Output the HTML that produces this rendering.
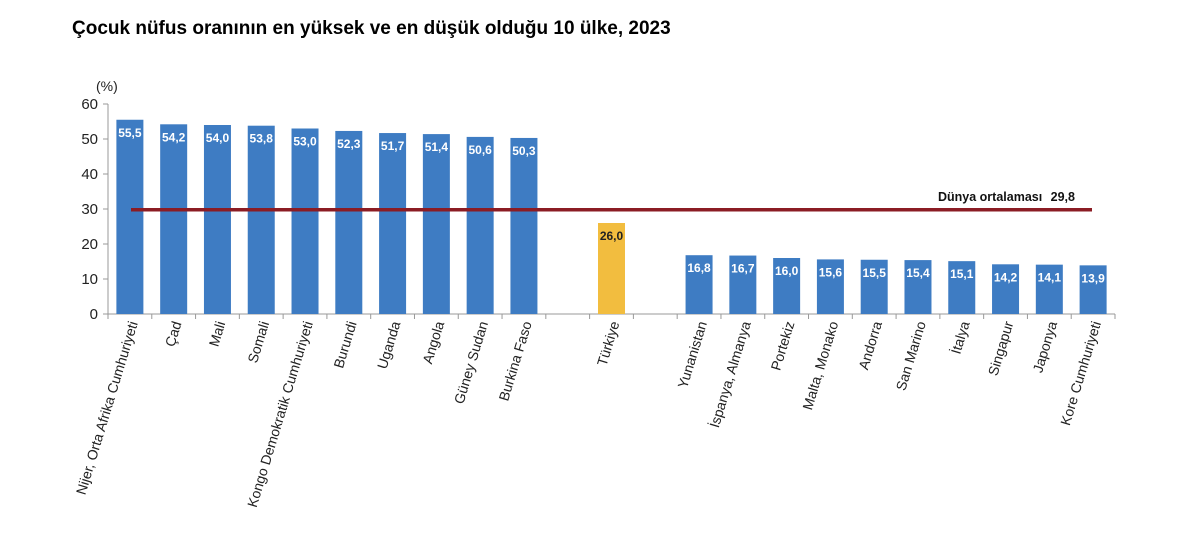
<!DOCTYPE html>
<html><head><meta charset="utf-8"><style>
body{margin:0;background:#fff;width:1200px;height:534px;overflow:hidden;font-family:"Liberation Sans",Arial,sans-serif}
</style></head><body>
<svg width="1200" height="534" xmlns="http://www.w3.org/2000/svg" font-family="Liberation Sans, Arial, sans-serif">
<text x="72" y="34" font-size="19" font-weight="bold" fill="#000">Çocuk nüfus oranının en yüksek ve en düşük olduğu 10 ülke, 2023</text>
<text x="96" y="91" font-size="14" fill="#222">(%)</text>
<g font-size="15" fill="#222" text-anchor="end">
<text x="98" y="109">60</text><text x="98" y="144">50</text><text x="98" y="179">40</text>
<text x="98" y="214">30</text><text x="98" y="249">20</text><text x="98" y="284">10</text><text x="98" y="319">0</text>
</g>
<g stroke="#999" stroke-width="1">
<line x1="108" y1="104" x2="108" y2="314"/>
<line x1="103" y1="104" x2="108" y2="104"/><line x1="103" y1="139" x2="108" y2="139"/><line x1="103" y1="174" x2="108" y2="174"/><line x1="103" y1="209" x2="108" y2="209"/><line x1="103" y1="244" x2="108" y2="244"/><line x1="103" y1="279" x2="108" y2="279"/>
<line x1="103" y1="314" x2="1115" y2="314"/>
</g>
<g id="bars"></g>
<line x1="131" y1="209.7" x2="1092" y2="209.7" stroke="#8b1c24" stroke-width="3.5"/>
<text x="938" y="201" font-size="12.5" font-weight="bold" fill="#111">Dünya ortalaması</text>
<text x="1075" y="201" font-size="12.5" font-weight="bold" fill="#111" text-anchor="end">29,8</text>
</svg>
<script>
const d=[["Nijer, Orta Afrika Cumhuriyeti",55.5],["Çad",54.2],["Mali",54.0],["Somali",53.8],["Kongo Demokratik Cumhuriyeti",53.0],["Burundi",52.3],["Uganda",51.7],["Angola",51.4],["Güney Sudan",50.6],["Burkina Faso",50.3],null,["Türkiye",26.0],null,["Yunanistan",16.8],["İspanya, Almanya",16.7],["Portekiz",16.0],["Malta, Monako",15.6],["Andorra",15.5],["San Marino",15.4],["İtalya",15.1],["Singapur",14.2],["Japonya",14.1],["Kore Cumhuriyeti",13.9]];
const g=document.getElementById('bars');let h='';
const w=1007/23;
for(let i=0;i<=23;i++){const x=108+w*i;h+=`<line x1="${x}" y1="314" x2="${x}" y2="319" stroke="#999"/>`;}
d.forEach((e,i)=>{if(!e)return;const c=108+w*(i+0.5);const y=314-e[1]*3.5;const t=e[0]=="Türkiye";
h+=`<rect x="${c-13.5}" y="${y}" width="27" height="${314-y}" fill="${t?'#f2bd3f':'#3e7cc3'}"/>`;
h+=`<text x="${c}" y="${y+17}" font-size="12" font-weight="bold" text-anchor="middle" fill="${t?'#222':'#fff'}">${e[1].toFixed(1).replace('.',',')}</text>`;
h+=`<text transform="translate(${c+8},323) rotate(-73)" font-size="14" text-anchor="end" fill="#222">${e[0]}</text>`;});
g.innerHTML=h;
</script>
</body></html>
